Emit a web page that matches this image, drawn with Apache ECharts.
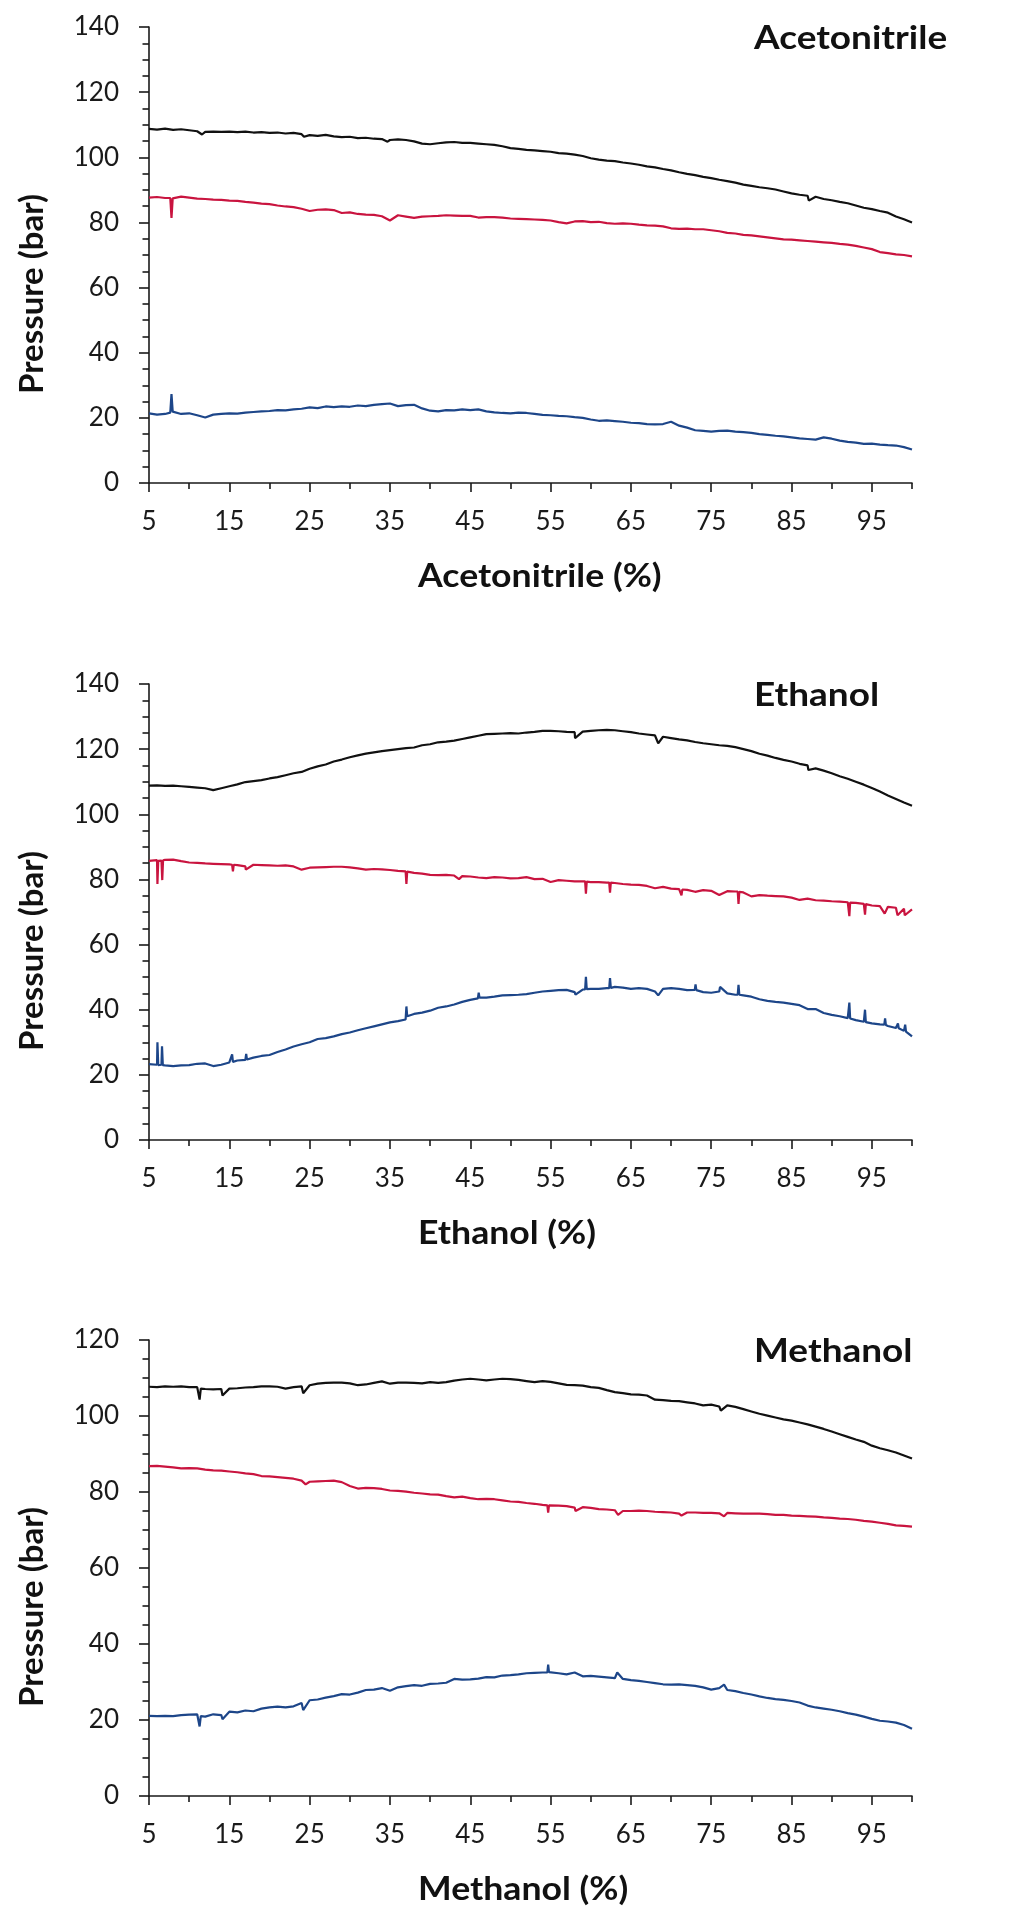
<!DOCTYPE html>
<html>
<head>
<meta charset="utf-8">
<script src="https://cdn.jsdelivr.net/npm/echarts@6/dist/echarts.min.js"></script>
<style>
  html, body { margin: 0; padding: 0; background: #fff; }
  #chart { width: 1035px; height: 1920px; }
</style>
</head>
<body>
<div id="chart"></div>
<script>
// solvent content grid (%)
const pct = [
  5, 6, 7, 8, 9, 10, 11, 12, 13, 14,
  15, 16, 17, 18, 19, 20, 21, 22, 23, 24,
  25, 26, 27, 28, 29, 30, 31, 32, 33, 34,
  35, 36, 37, 38, 39, 40, 41, 42, 43, 44,
  45, 46, 47, 48, 49, 50, 51, 52, 53, 54,
  55, 56, 57, 58, 59, 60, 61, 62, 63, 64,
  65, 66, 67, 68, 69, 70, 71, 72, 73, 74,
  75, 76, 77, 78, 79, 80, 81, 82, 83, 84,
  85, 86, 87, 88, 89, 90, 91, 92, 93, 94,
  95, 96, 97, 98, 99, 100
]
const xLabelValues = [5, 15, 25, 35, 45, 55, 65, 75, 85, 95]
const xMinorValues = [10, 20, 30, 40, 50, 60, 70, 80, 90, 100]

// --- Acetonitrile ---
const acnBlack = [
  108.7, 108.5, 108.8, 108.4, 108.6, 108.3, 108.0, 107.8, 107.9, 107.8,
  107.9, 107.7, 107.9, 107.6, 107.7, 107.5, 107.6, 107.3, 107.5, 107.1,
  106.8, 106.6, 106.9, 106.4, 106.2, 106.3, 105.9, 106.0, 105.7, 105.6,
  105.3, 105.5, 105.3, 104.9, 104.2, 104.0, 104.3, 104.6, 104.7, 104.4,
  104.4, 104.2, 104.0, 103.8, 103.4, 102.8, 102.6, 102.3, 102.1, 101.9,
  101.7, 101.3, 101.1, 100.8, 100.4, 99.7, 99.3, 99.0, 98.8, 98.4,
  98.1, 97.7, 97.2, 96.9, 96.4, 96.0, 95.4, 94.9, 94.5, 94.0,
  93.6, 93.1, 92.7, 92.2, 91.6, 91.2, 90.8, 90.5, 90.1, 89.5,
  88.9, 88.5, 88.2, 87.9, 87.2, 86.8, 86.3, 85.9, 85.2, 84.5,
  84.1, 83.5, 83.0, 81.8, 81.0, 80.0
]
const acnBlackSpikes = [[11.6, 107.0], [24.3, 106.3], [34.7, 104.8], [87.15, 86.7]]
const acnRed = [
  87.6, 87.8, 87.5, 87.2, 87.9, 87.6, 87.3, 87.2, 87.0, 86.9,
  86.7, 86.6, 86.3, 86.1, 85.8, 85.6, 85.2, 84.9, 84.7, 84.2,
  83.5, 83.9, 84.0, 83.8, 82.9, 83.1, 82.6, 82.4, 82.3, 81.9,
  80.6, 82.2, 81.8, 81.4, 81.8, 81.9, 82.0, 82.2, 82.1, 82.0,
  82.0, 81.5, 81.6, 81.6, 81.5, 81.2, 81.1, 81.0, 80.9, 80.8,
  80.6, 80.1, 79.7, 80.3, 80.4, 80.1, 80.2, 79.8, 79.6, 79.7,
  79.6, 79.3, 79.1, 79.0, 78.8, 78.2, 78.0, 78.1, 77.9, 77.9,
  77.6, 77.3, 76.8, 76.6, 76.2, 76.0, 75.7, 75.4, 75.1, 74.8,
  74.7, 74.5, 74.3, 74.1, 73.9, 73.7, 73.4, 73.2, 72.8, 72.3,
  71.8, 70.9, 70.6, 70.2, 70.0, 69.6
]
const acnRedSpikes = [[7.65, 87.5], [7.8, 81.4], [7.95, 87.4]]
const acnBlue = [
  21.4, 21.0, 21.2, 22.0, 21.2, 21.4, 20.8, 20.1, 21.0, 21.2,
  21.4, 21.3, 21.6, 21.8, 22.0, 22.1, 22.4, 22.3, 22.6, 22.8,
  23.2, 23.0, 23.5, 23.3, 23.5, 23.4, 23.8, 23.6, 24.0, 24.2,
  24.4, 23.6, 23.9, 24.0, 22.9, 22.2, 22.0, 22.4, 22.3, 22.6,
  22.4, 22.6, 22.0, 21.7, 21.5, 21.4, 21.6, 21.5, 21.2, 20.9,
  20.8, 20.6, 20.5, 20.2, 20.0, 19.5, 19.1, 19.2, 19.0, 18.8,
  18.5, 18.4, 18.1, 18.0, 18.1, 18.8, 17.6, 17.0, 16.2, 16.0,
  15.8, 16.0, 16.1, 15.8, 15.6, 15.4, 15.0, 14.8, 14.5, 14.3,
  14.0, 13.7, 13.5, 13.3, 14.0, 13.6, 13.0, 12.6, 12.4, 12.0,
  12.1, 11.8, 11.6, 11.5, 11.0, 10.3
]
const acnBlueSpikes = [[7.65, 21.6], [7.8, 27.3], [7.95, 21.9]]

// --- Ethanol ---
const ethBlack = [
  108.8, 108.9, 108.7, 108.8, 108.6, 108.4, 108.2, 108.0, 107.4, 108.0,
  108.6, 109.2, 109.9, 110.2, 110.5, 111.0, 111.4, 112.0, 112.6, 113.0,
  114.0, 114.7, 115.3, 116.2, 116.8, 117.5, 118.1, 118.6, 119.0, 119.4,
  119.7, 120.0, 120.3, 120.5, 121.2, 121.5, 122.1, 122.3, 122.6, 123.1,
  123.6, 124.1, 124.6, 124.7, 124.8, 124.9, 124.8, 125.1, 125.3, 125.6,
  125.6, 125.5, 125.3, 125.2, 125.4, 125.6, 125.8, 125.9, 125.8, 125.5,
  125.2, 124.8, 124.5, 124.2, 123.8, 123.4, 123.0, 122.7, 122.2, 121.8,
  121.5, 121.2, 121.0, 120.6, 120.0, 119.4, 118.6, 118.0, 117.3, 116.7,
  116.2, 115.5, 115.0, 114.1, 113.4, 112.6, 111.7, 110.9, 110.0, 109.1,
  108.1, 107.0, 105.8, 104.7, 103.6, 102.6
]
const ethBlackSpikes = [[58.05, 123.4], [68.4, 121.8], [87.1, 113.6]]
const ethRed = [
  85.7, 85.9, 86.0, 86.1, 85.6, 85.2, 85.1, 84.9, 84.8, 84.7,
  84.6, 84.4, 84.0, 84.5, 84.4, 84.3, 84.2, 84.3, 84.0, 83.0,
  83.6, 83.7, 83.8, 83.9, 83.9, 83.7, 83.4, 83.0, 83.2, 83.1,
  82.9, 82.6, 82.4, 82.0, 81.8, 81.4, 81.3, 81.4, 81.2, 81.0,
  80.9, 80.6, 80.4, 80.7, 80.6, 80.3, 80.4, 80.7, 80.1, 80.2,
  79.2, 79.8, 79.6, 79.4, 79.4, 79.2, 79.2, 79.0, 78.9, 78.6,
  78.4, 78.3, 78.0, 77.3, 77.7, 77.2, 77.0, 76.8, 76.2, 76.7,
  76.5, 75.2, 76.4, 76.3, 76.0, 74.8, 75.2, 75.0, 74.9, 74.8,
  74.4, 73.7, 74.1, 73.6, 73.5, 73.3, 73.2, 73.0, 72.8, 72.5,
  72.0, 71.8, 71.6, 71.3, 71.0, 70.8
]
const ethRedSpikes = [
  [6.05, 78.6], [6.15, 85.7], [6.55, 85.8], [6.65, 79.8], [6.75, 85.9],
  [15.35, 84.5], [15.45, 82.5], [15.55, 84.5], [17.05, 83.0],
  [36.95, 82.5], [37.05, 78.6], [37.15, 82.4], [43.6, 80.1],
  [59.3, 79.4], [59.4, 75.6], [59.5, 79.3],
  [62.3, 79.0], [62.4, 75.9], [62.5, 79.0],
  [71.2, 77.0], [71.3, 75.1], [71.4, 76.9],
  [78.3, 76.3], [78.4, 72.5], [78.5, 76.2],
  [92.1, 73.0], [92.2, 68.7], [92.3, 72.9],
  [94.05, 72.5], [94.15, 69.2], [94.25, 72.4],
  [96.6, 69.5], [98.2, 69.0], [99.1, 69.0]
]
const ethBlue = [
  23.3, 23.1, 22.9, 22.7, 22.9, 23.0, 23.4, 23.5, 22.7, 23.1,
  23.8, 24.4, 24.6, 25.3, 25.8, 26.1, 27.0, 27.8, 28.7, 29.4,
  30.0, 31.0, 31.3, 31.8, 32.5, 33.0, 33.7, 34.3, 34.9, 35.5,
  36.1, 36.5, 37.2, 38.7, 39.1, 39.7, 40.6, 41.0, 41.6, 42.4,
  43.0, 43.6, 43.7, 44.0, 44.4, 44.5, 44.6, 44.8, 45.2, 45.6,
  45.8, 46.0, 46.1, 45.4, 46.2, 46.4, 46.4, 46.6, 47.0, 46.8,
  46.4, 46.6, 46.4, 45.6, 46.4, 46.6, 46.4, 46.0, 46.2, 45.4,
  45.2, 45.6, 45.0, 44.6, 44.4, 44.0, 43.2, 42.7, 42.4, 42.2,
  41.8, 41.4, 40.2, 40.2, 39.0, 38.4, 38.0, 37.4, 36.8, 36.3,
  35.8, 35.5, 35.0, 34.4, 33.5, 31.8
]
const ethBlueSpikes = [
  [6.05, 30.0], [6.15, 23.0], [6.55, 23.1], [6.62, 28.8], [6.72, 23.0],
  [15.35, 26.3], [15.45, 24.0], [17.1, 26.4], [17.2, 24.7],
  [36.95, 37.0], [37.05, 41.0], [37.15, 38.0],
  [45.95, 43.5], [46.05, 45.2], [46.15, 43.7],
  [58.1, 44.6], [59.3, 46.2], [59.4, 50.1], [59.5, 46.3],
  [62.3, 46.6], [62.4, 49.7], [62.5, 46.7], [68.4, 44.4],
  [72.95, 46.1], [73.05, 47.8], [73.15, 46.0], [76.1, 47.0],
  [78.3, 44.6], [78.4, 47.6], [78.5, 44.6],
  [92.1, 37.3], [92.2, 42.2], [92.3, 37.3],
  [94.05, 36.3], [94.15, 40.0], [94.25, 36.2],
  [96.55, 35.4], [96.65, 37.3], [96.75, 35.3],
  [98.15, 34.4], [98.25, 35.8], [98.35, 34.3],
  [99.05, 33.4], [99.15, 35.4], [99.25, 33.3]
]

// --- Methanol ---
const methBlack = [
  107.7, 107.6, 107.8, 107.7, 107.8, 107.6, 107.6, 107.1, 107.0, 107.1,
  107.2, 107.3, 107.5, 107.6, 107.8, 107.8, 107.7, 107.2, 107.6, 107.8,
  108.1, 108.5, 108.7, 108.8, 108.8, 108.6, 108.1, 108.3, 108.7, 109.1,
  108.5, 108.8, 108.8, 108.7, 108.6, 108.9, 108.7, 108.9, 109.3, 109.6,
  109.8, 109.6, 109.4, 109.6, 109.8, 109.7, 109.5, 109.2, 108.9, 109.2,
  109.0, 108.6, 108.2, 108.1, 108.0, 107.6, 107.4, 106.8, 106.3, 106.0,
  105.7, 105.6, 105.4, 104.3, 104.2, 104.0, 103.9, 103.6, 103.3, 102.8,
  103.0, 102.5, 102.8, 102.4, 101.8, 101.2, 100.6, 100.1, 99.6, 99.1,
  98.8, 98.3, 97.8, 97.2, 96.6, 95.9, 95.2, 94.5, 93.8, 93.2,
  92.2, 91.5, 91.0, 90.4, 89.6, 88.8
]
const methBlackSpikes = [[11.2, 107.5], [11.3, 104.3], [11.45, 107.2], [14.15, 105.4], [24.2, 106.0], [76.2, 101.4]]
const methRed = [
  86.8, 86.9, 86.7, 86.5, 86.2, 86.3, 86.2, 85.9, 85.7, 85.6,
  85.4, 85.2, 84.9, 84.7, 84.2, 84.1, 83.9, 83.7, 83.5, 83.0,
  82.7, 82.8, 82.9, 83.0, 82.6, 81.6, 80.9, 81.1, 81.0, 80.8,
  80.4, 80.3, 80.1, 79.8, 79.6, 79.4, 79.3, 78.9, 78.6, 78.8,
  78.4, 78.1, 78.2, 78.1, 77.8, 77.5, 77.4, 77.1, 76.9, 76.6,
  76.5, 76.4, 76.3, 75.9, 76.0, 75.8, 75.5, 75.4, 75.2, 75.0,
  75.0, 75.1, 75.0, 74.8, 74.7, 74.6, 74.3, 74.6, 74.6, 74.5,
  74.5, 74.4, 74.5, 74.4, 74.3, 74.3, 74.3, 74.2, 74.0, 74.0,
  73.8, 73.7, 73.6, 73.5, 73.3, 73.2, 73.0, 72.9, 72.7, 72.4,
  72.2, 71.9, 71.6, 71.2, 71.1, 70.9
]
const methRedSpikes = [[24.5, 82.0], [54.6, 76.5], [54.7, 74.6], [54.8, 76.5], [58.1, 75.0], [63.4, 74.0], [71.3, 73.8], [76.6, 73.6]]
const methBlue = [
  21.1, 21.0, 21.1, 21.0, 21.3, 21.4, 21.5, 20.9, 21.5, 21.3,
  22.2, 22.0, 22.5, 22.3, 23.0, 23.3, 23.5, 23.3, 23.6, 24.5,
  25.2, 25.4, 25.9, 26.3, 26.8, 26.7, 27.2, 27.9, 28.0, 28.4,
  27.7, 28.6, 28.9, 29.2, 29.0, 29.5, 29.6, 29.8, 30.8, 30.6,
  30.7, 30.9, 31.3, 31.2, 31.7, 31.8, 32.0, 32.3, 32.4, 32.5,
  32.6, 32.3, 32.0, 32.5, 31.5, 31.6, 31.4, 31.2, 31.0, 30.8,
  30.5, 30.3, 30.0, 29.7, 29.4, 29.3, 29.4, 29.2, 29.0, 28.6,
  28.0, 28.4, 27.9, 27.6, 27.1, 26.7, 26.2, 25.8, 25.5, 25.3,
  25.0, 24.6, 23.8, 23.3, 23.0, 22.7, 22.3, 21.8, 21.4, 20.9,
  20.3, 19.8, 19.6, 19.3, 18.7, 17.7
]
const methBlueSpikes = [[11.2, 21.4], [11.3, 18.3], [11.45, 21.0], [14.15, 20.2], [24.2, 22.6], [54.6, 32.5], [54.7, 34.6], [54.8, 32.6], [63.3, 32.5], [76.6, 29.3]]

const panelTitles = ['Acetonitrile', 'Ethanol', 'Methanol']
const xAxisNames = ['Acetonitrile (%)', 'Ethanol (%)', 'Methanol (%)']
const yAxisName = 'Pressure (bar)'
const yMaxes = [140, 140, 120]
const panelSeries = [
  [[acnBlack, acnBlackSpikes], [acnRed, acnRedSpikes], [acnBlue, acnBlueSpikes]],
  [[ethBlack, ethBlackSpikes], [ethRed, ethRedSpikes], [ethBlue, ethBlueSpikes]],
  [[methBlack, methBlackSpikes], [methRed, methRedSpikes], [methBlue, methBlueSpikes]]
]

// layout / style
const LINE_COLORS = ['#111111', '#c9143f', '#1d4689']
const AXIS_COLOR = '#1a1a1a'
const FONT = 'Lato'
const GRID_LEFT = 149
const GRID_WIDTH = 763
const GRID_HEIGHT = 456
const GRID_TOPS = [27, 684, 1340]
const TITLE_X = 754
const XNAME_X = 418
const TITLE_SCALE = 1.12
const XNAME_SCALE = 1.08

const mergePoints = (values, spikes) =>
  pct.map((x, k) => [x, values[k]]).concat(spikes).sort((a, b) => a[0] - b[0])

const axisLineStyle = { color: AXIS_COLOR, width: 1.6 }

const grid = []
const xAxis = []
const yAxis = []
const series = []
const graphic = []

GRID_TOPS.forEach((top, i) => {
  grid.push({ left: GRID_LEFT, top, width: GRID_WIDTH, height: GRID_HEIGHT, outerBoundsMode: 'none' })

  // main x axis: labels + long ticks at 5, 15, ... 95
  xAxis.push({
    gridIndex: i,
    type: 'value',
    position: 'bottom',
    min: 5,
    max: 100,
    interval: 5,
    axisLine: { show: true, onZero: false, lineStyle: axisLineStyle },
    axisTick: { show: true, customValues: xLabelValues, length: 9, lineStyle: axisLineStyle },
    axisLabel: {
      customValues: xLabelValues,
      margin: 26,
      fontFamily: FONT,
      fontSize: 26,
      color: AXIS_COLOR
    },
    splitLine: { show: false }
  })
  // overlay x axis: short ticks at 10, 20, ... 100
  xAxis.push({
    gridIndex: i,
    type: 'value',
    position: 'bottom',
    min: 5,
    max: 100,
    interval: 5,
    axisLine: { show: false },
    axisTick: { show: true, customValues: xMinorValues, length: 6, lineStyle: axisLineStyle },
    axisLabel: { show: false },
    splitLine: { show: false }
  })

  yAxis.push({
    gridIndex: i,
    type: 'value',
    min: 0,
    max: yMaxes[i],
    interval: 20,
    axisLine: { show: true, lineStyle: axisLineStyle },
    axisTick: { show: true, length: 10, lineStyle: axisLineStyle },
    minorTick: { show: true, splitNumber: 4, length: 6.5, lineStyle: axisLineStyle },
    axisLabel: {
      margin: 30,
      fontFamily: FONT,
      fontSize: 26,
      color: AXIS_COLOR
    },
    splitLine: { show: false },
    minorSplitLine: { show: false }
  })

  panelSeries[i].forEach(([values, spikes], k) => {
    series.push({
      type: 'line',
      xAxisIndex: i * 2,
      yAxisIndex: i,
      data: mergePoints(values, spikes),
      showSymbol: false,
      symbol: 'none',
      silent: true,
      lineStyle: { color: LINE_COLORS[k], width: 2.2 },
      z: 3 - k
    })
  })

  const bottom = top + GRID_HEIGHT
  const boldFont = 'bold 33px ' + FONT

  graphic.push({
    type: 'text',
    x: TITLE_X,
    y: top + 11.5,
    scaleX: TITLE_SCALE,
    style: { text: panelTitles[i], font: boldFont, fill: '#111', textAlign: 'left', textVerticalAlign: 'middle', align: 'left', verticalAlign: 'middle' }
  })
  graphic.push({
    type: 'text',
    x: XNAME_X,
    y: bottom + 93.5,
    scaleX: XNAME_SCALE,
    style: { text: xAxisNames[i], font: boldFont, fill: '#111', textAlign: 'left', textVerticalAlign: 'middle', align: 'left', verticalAlign: 'middle' }
  })
  graphic.push({
    type: 'text',
    x: 32,
    y: top + GRID_HEIGHT / 2 + 39,
    rotation: Math.PI / 2,
    style: { text: yAxisName, font: boldFont, fill: '#111', textAlign: 'center', textVerticalAlign: 'middle', align: 'center', verticalAlign: 'middle' }
  })
})

const chart = echarts.init(document.getElementById('chart'), null, { renderer: 'canvas' })
chart.setOption({
  animation: false,
  backgroundColor: '#ffffff',
  grid,
  xAxis,
  yAxis,
  series,
  graphic
})
</script>
</body>
</html>
